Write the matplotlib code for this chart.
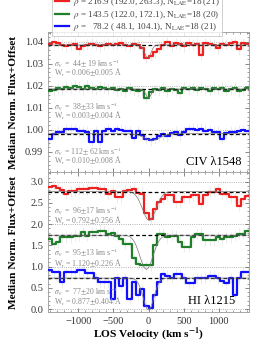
import numpy as np
import matplotlib
matplotlib.use('Agg')
from matplotlib import pyplot as plt
from matplotlib.ticker import MultipleLocator, FormatStrFormatter

plt.rcParams['font.family'] = ['Liberation Serif', 'DejaVu Serif']
plt.rcParams['mathtext.fontset'] = 'stix'

# velocity bin centres (km/s)
vel = [-1410, -1350, -1290, -1230, -1170, -1110, -1050, -990, -930, -870, -810, -750,
       -690, -630, -570, -510, -450, -390, -330, -270, -210, -150, -90, -30,
       30, 90, 150, 210, 270, 330, 390, 450, 510, 570, 630, 690, 750, 810, 870, 930,
       990, 1050, 1110, 1170, 1230, 1290, 1350, 1410]

# CIV 1548 stacks (with offsets)
civ_red = [1.0390, 1.0400, 1.0395, 1.0385, 1.0380, 1.0385, 1.0390, 1.0365, 1.0380, 1.0385,
           1.0390, 1.0385, 1.0380, 1.0385, 1.0390, 1.0385, 1.0390, 1.0395, 1.0385, 1.0380,
           1.0390, 1.0385, 1.0370, 1.0328, 1.0335, 1.0353, 1.0368, 1.0385, 1.0398, 1.0380,
           1.0392, 1.0388, 1.0380, 1.0392, 1.0385, 1.0390, 1.0340, 1.0392, 1.0388, 1.0385,
           1.0370, 1.0390, 1.0385, 1.0392, 1.0398, 1.0365, 1.0392, 1.0388]
civ_green = [1.0175, 1.0180, 1.0190, 1.0185, 1.0195, 1.0190, 1.0200, 1.0195, 1.0185, 1.0200,
             1.0190, 1.0185, 1.0195, 1.0190, 1.0185, 1.0190, 1.0180, 1.0185, 1.0175, 1.0190,
             1.0180, 1.0175, 1.0180, 1.0145, 1.0170, 1.0185, 1.0180, 1.0190, 1.0175, 1.0185,
             1.0180, 1.0168, 1.0190, 1.0185, 1.0190, 1.0180, 1.0190, 1.0185, 1.0178, 1.0190,
             1.0185, 1.0190, 1.0178, 1.0185, 1.0190, 1.0175, 1.0180, 1.0188]
civ_blue = [0.9956, 0.9980, 0.9991, 0.9991, 1.0002, 1.0002, 1.0002, 0.9993, 0.9993, 0.9990,
            0.9945, 0.9993, 0.9945, 0.9993, 1.0002, 0.9993, 1.0002, 1.0000, 0.9993, 0.9993,
            0.9961, 0.9993, 0.9975, 0.9960, 0.9952, 0.9960, 0.9970, 0.9980, 0.9970, 0.9985,
            0.9990, 0.9975, 0.9990, 1.0002, 1.0004, 1.0000, 1.0004, 0.9995, 0.9998, 0.9990,
            0.9990, 0.9958, 0.9985, 0.9990, 0.9990, 0.9995, 0.9998, 0.9995]

# HI 1215 stacks (with offsets)
hi_red = [2.88, 2.90, 2.86, 2.80, 2.72, 2.78, 2.78, 2.82, 2.82, 2.82, 2.85, 2.85,
          2.82, 2.82, 2.72, 2.79, 2.64, 2.64, 2.79, 2.80, 2.82, 2.74, 2.72, 2.27,
          2.13, 2.36, 2.52, 2.60, 2.68, 2.68, 2.52, 2.52, 2.64, 2.64, 2.68, 2.68,
          2.48, 2.68, 2.76, 2.76, 2.82, 2.70, 2.70, 2.64, 2.64, 2.44, 2.60, 2.66]
hi_green = [1.66, 1.54, 1.58, 1.69, 1.69, 1.69, 1.73, 1.73, 1.81, 1.73, 1.81, 1.81,
            1.85, 1.85, 1.77, 1.79, 1.73, 1.66, 1.54, 1.54, 1.20, 1.06, 1.03, 1.03,
            1.03, 1.50, 1.77, 1.77, 1.69, 1.73, 1.73, 1.58, 1.47, 1.47, 1.69, 1.77,
            1.77, 1.62, 1.62, 1.62, 1.69, 1.66, 1.69, 1.69, 1.73, 1.77, 1.77, 1.85]
hi_blue = [0.91, 0.87, 0.87, 0.63, 0.87, 0.87, 0.87, 0.91, 0.91, 0.84, 0.84, 0.72,
           0.63, 0.63, 0.63, 0.24, 0.72, 0.55, 0.72, 0.24, 0.63, 0.32, 0.47, 0.08,
           0.02, 0.32, 0.63, 0.82, 0.79, 0.74, 0.82, 0.82, 0.72, 0.61, 0.61, 0.72,
           0.72, 0.74, 0.79, 0.79, 0.72, 0.65, 0.61, 0.72, 0.32, 0.72, 0.87, 0.87]

# continuum levels (dashed) and reference levels (dotted)
civ_cont = [1.0385, 1.0185, 0.9982]
hi_cont = [2.77, 1.74, 0.73]
civ_ref = [1.04, 1.02, 1.00]
hi_ref = [3.0, 2.0, 1.0, 0.0]

# gaussian fits: centre, sigma, depth
civ_fit = [(-10, 44, 0.0060), (0, 38, 0.0040), (50, 112, 0.0030)]
hi_fit = [(10, 96, 0.68), (-30, 95, 0.80), (0, 77, 0.75)]
civ_err = 0.0025
hi_err = 0.13

civ_sig = [r'$\sigma_{\rm V}$ =  44$\pm$ 19 km s$^{-1}$',
           r'$\sigma_{\rm V}$ =  38$\pm$33 km s$^{-1}$',
           r'$\sigma_{\rm V}$ = 112$\pm$ 62 km s$^{-1}$']
civ_wr = [r'W$_{\rm r}$ = 0.006$\pm$0.005 Å',
          r'W$_{\rm r}$ = 0.003$\pm$0.004 Å',
          r'W$_{\rm r}$ = 0.010$\pm$0.008 Å']
hi_sig = [r'$\sigma_{\rm V}$ =  96$\pm$17 km s$^{-1}$',
          r'$\sigma_{\rm V}$ =  95$\pm$13 km s$^{-1}$',
          r'$\sigma_{\rm V}$ =  77$\pm$20 km s$^{-1}$']
hi_wr = [r'W$_{\rm r}$ = 0.792$\pm$0.256 Å',
         r'W$_{\rm r}$ = 1.120$\pm$0.226 Å',
         r'W$_{\rm r}$ = 0.877$\pm$0.404 Å']
legend_labels = [r'$\rho$ = 216.9 (192.0, 263.3), N$_{\rm LAE}$=18 (21)',
                 r'$\rho$ = 143.5 (122.0, 172.1), N$_{\rm LAE}$=18 (20)',
                 r'$\rho$ =   78.2 ( 48.1, 104.1), N$_{\rm LAE}$=18 (21)']
colors = ['#ee2020', '#1f7f2a', '#1010ff']

civ_sig_y = [1.0302, 1.0105, 0.9898]
civ_wr_y = [1.0256, 1.0061, 0.9857]
hi_sig_y = [2.32, 1.33, 0.41]
hi_wr_y = [2.08, 1.07, 0.16]

fig = plt.figure(figsize=(2.64, 3.41), dpi=100)
ax1 = fig.add_axes([0.182, 0.4956, 0.761, 0.4106])
ax2 = fig.add_axes([0.182, 0.085, 0.761, 0.4106])

vv = np.linspace(-1430, 1430, 600)
v = np.array(vel)
grey = '#8a8a8a'


def draw_panel(ax, series, cont, ref, fits, err, sigs, wrs, sy, wy, fsz):
    for r in ref:
        ax.axhline(r, color='#9a9a9a', ls=':', lw=0.6, zorder=1)
    for k, ys in enumerate(series):
        ys = np.array(ys)
        ax.vlines(v, ys - err, ys + err, color='#e3e3e3', lw=0.5, zorder=1)
        ax.step(v, ys, where='mid', color=colors[k], lw=1.6, zorder=3)
        ax.axhline(cont[k], color='black', ls=(0, (3, 2)), lw=0.9, zorder=4)
        c, s, d = fits[k]
        ax.plot(vv, cont[k] - d * np.exp(-0.5 * ((vv - c) / s) ** 2),
                color='#777777', lw=0.5, zorder=5)
        ax.text(-1345, sy[k], sigs[k], color=grey, fontsize=fsz, va='center')
        ax.text(-1345, wy[k], wrs[k], color=grey, fontsize=fsz, va='center')
    ax.set_xlim(-1430, 1430)
    ax.xaxis.set_major_locator(MultipleLocator(500))
    ax.xaxis.set_minor_locator(MultipleLocator(100))
    ax.tick_params(which='both', direction='in', top=True, right=True,
                   colors='#555555', labelcolor='#333333', labelsize=7.5)
    ax.tick_params(which='major', length=3, width=0.5)
    ax.tick_params(which='minor', length=1.5, width=0.4)
    for sp in ax.spines.values():
        sp.set_color('#999999')
        sp.set_linewidth(0.6)
    ax.set_ylabel('Median Norm. Flux+Offset', fontsize=8.2, fontweight='bold')
    ax.yaxis.set_label_coords(-0.15, 0.5)


draw_panel(ax1, [civ_red, civ_green, civ_blue], civ_cont, civ_ref, civ_fit, civ_err,
           civ_sig, civ_wr, civ_sig_y, civ_wr_y, 5.6)
ax1.set_ylim(0.9808, 1.0444)
ax1.yaxis.set_major_locator(MultipleLocator(0.01))
ax1.yaxis.set_minor_locator(MultipleLocator(0.002))
ax1.yaxis.set_major_formatter(FormatStrFormatter('%.2f'))
ax1.tick_params(labelbottom=False)
ax1.text(1320, 0.9853, 'CIV λ1548', fontsize=9, ha='right', va='center')

draw_panel(ax2, [hi_red, hi_green, hi_blue], hi_cont, hi_ref, hi_fit, hi_err,
           hi_sig, hi_wr, hi_sig_y, hi_wr_y, 5.6)
ax2.set_ylim(-0.07, 3.23)
ax2.yaxis.set_major_locator(MultipleLocator(0.5))
ax2.yaxis.set_minor_locator(MultipleLocator(0.1))
ax2.yaxis.set_major_formatter(FormatStrFormatter('%.1f'))
ax2.text(1235, 0.19, 'HI λ1215', fontsize=9, ha='right', va='center')
ax2.set_xlabel(r'LOS Velocity (km s$^{\mathbf{-1}}$)', fontsize=8.2, fontweight='bold', labelpad=0)

handles = [plt.Line2D([], [], color=c, lw=1.6) for c in colors]
leg = fig.legend(handles, legend_labels, loc='lower left',
                 bbox_to_anchor=(52 / 264, 1 - 36 / 341), fontsize=6.6,
                 frameon=True, fancybox=False, edgecolor='#bbbbbb',
                 handlelength=1.5, handletextpad=0.5, labelspacing=0.05,
                 borderpad=0.3, borderaxespad=0)
for t in leg.get_texts():
    t.set_color('#444444')
leg.get_frame().set_linewidth(0.6)

fig.savefig('out.png', dpi=100)
